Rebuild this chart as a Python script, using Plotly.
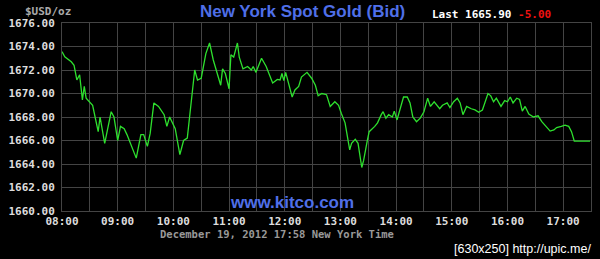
import plotly.graph_objects as go

times = ["08:00","08:03","08:10","08:13","08:16","08:19","08:22","08:24","08:26","08:30",
         "08:33","08:39","08:41","08:46","08:49","08:53","08:56","09:00","09:03","09:07",
         "09:10","09:15","09:20","09:25","09:28","09:32","09:35","09:39","09:44","09:50",
         "09:53","09:56","10:02","10:07","10:11","10:15","10:18","10:23","10:26","10:30",
         "10:35","10:39","10:43","10:46","10:51","10:53","10:56","11:00","11:02","11:05",
         "11:09","11:11","11:15","11:20","11:24","11:26","11:29","11:35","11:40","11:47",
         "11:52","11:55","11:57","11:59","12:01","12:04","12:08","12:11","12:15","12:18",
         "12:24","12:29","12:33","12:36","12:40","12:45","12:49","12:54","12:58","13:01",
         "13:05","13:10","13:12","13:16","13:19","13:23","13:25","13:29","13:31","13:37",
         "13:40","13:44","13:46","13:49","13:52","13:56","13:58","14:01","14:05","14:08",
         "14:12","14:15","14:18","14:22","14:26","14:30","14:34","14:37","14:41","14:47",
         "14:50","14:55","14:58","15:02","15:06","15:09","15:12","15:16","15:21","15:25",
         "15:29","15:33","15:39","15:42","15:45","15:48","15:53","15:57","16:00","16:03",
         "16:06","16:10","16:13","16:16","16:19","16:23","16:28","16:33","16:37","16:43",
         "16:46","16:50","16:53","16:58","17:02","17:06","17:09","17:12","17:29"]
prices = [1673.56,1673.13,1672.7,1672.4,1671.15,1671.6,1669.45,1670.6,1669.6,1669.2,
          1669.0,1666.75,1668.0,1665.76,1666.9,1668.45,1668.0,1666.0,1667.2,1667.0,
          1666.5,1665.5,1664.5,1666.5,1666.5,1665.5,1666.6,1669.2,1668.9,1668.2,
          1667.2,1668.0,1667.0,1664.8,1666.0,1666.2,1668.3,1672.0,1671.15,1671.3,
          1673.4,1674.3,1672.85,1672.0,1670.7,1672.1,1671.7,1670.4,1673.3,1673.1,
          1674.3,1673.1,1672.1,1672.3,1672.0,1672.3,1671.8,1673.0,1672.3,1670.9,
          1671.2,1671.15,1671.7,1671.1,1671.8,1670.9,1669.7,1670.3,1670.6,1671.4,
          1671.8,1671.3,1670.7,1669.8,1670.0,1669.9,1668.9,1669.3,1669.0,1668.3,
          1667.5,1665.2,1665.76,1666.1,1665.76,1663.7,1664.3,1666.0,1666.75,1667.2,
          1667.5,1668.2,1668.45,1667.9,1668.2,1668.0,1668.5,1667.75,1668.8,1669.7,
          1669.7,1669.2,1668.0,1667.6,1667.9,1668.45,1669.6,1668.9,1669.3,1668.7,
          1669.0,1669.2,1668.8,1669.3,1669.6,1669.2,1668.2,1668.9,1668.7,1668.6,
          1668.4,1668.6,1670.0,1669.8,1669.3,1669.6,1668.9,1669.4,1669.3,1669.7,
          1669.2,1669.6,1669.5,1668.5,1668.9,1668.25,1668.0,1668.1,1667.6,1667.0,
          1666.8,1666.9,1667.1,1667.2,1667.3,1667.2,1666.75,1665.95,1665.95]

date = "2012-12-19"
x_range = ["08:00", "17:30"]
y_ticks = [1660, 1662, 1664, 1666, 1668, 1670, 1672, 1674, 1676]
x_tick_labels = ["08:00","09:00","10:00","11:00","12:00","13:00","14:00","15:00","16:00","17:00"]

title = "New York Spot Gold (Bid)"
unit = "$USD/oz"
last_price = "1665.90"
change = "-5.00"
footer = "December 19, 2012 17:58 New York Time"
site = "www.kitco.com"
stamp = "[630x250] http://upic.me/"

xs = [f"{date} {t}" for t in times]
grid = "#444444"
mono = "DejaVu Sans Mono"

fig = go.Figure(go.Scatter(x=xs, y=prices, mode="lines",
                           line=dict(color="#2ee02e", width=1.3)))

L, R, T, B = 57, 8, 23, 48
W, H = 600, 259
pw, ph = W - L - R, H - T - B

def px(x):
    return (x - L) / pw

def py(y):
    return (H - B - y) / ph

fig.update_layout(
    width=W, height=H,
    margin=dict(l=L, r=R, t=T, b=B),
    paper_bgcolor="black", plot_bgcolor="black",
    showlegend=False,
    xaxis=dict(
        range=[f"{date} {x_range[0]}", f"{date} {x_range[1]}"],
        tickvals=[f"{date} {t}" for t in x_tick_labels],
        ticktext=x_tick_labels,
        showgrid=True, gridcolor=grid, gridwidth=1,
        minor=dict(dtick=1800000, showgrid=True, gridcolor=grid, gridwidth=1),
        showline=True, linecolor=grid, mirror=True, linewidth=1,
        zeroline=False, ticks="",
        tickfont=dict(family=mono, size=11, color="#dddddd", weight="bold"),
        ticklabelstandoff=0,
    ),
    yaxis=dict(
        range=[1660, 1676],
        tickvals=y_ticks,
        ticktext=[f"{v:.2f}" for v in y_ticks],
        showgrid=True, gridcolor=grid, gridwidth=1,
        showline=True, linecolor=grid, mirror=True, linewidth=1,
        zeroline=False, ticks="",
        tickfont=dict(family=mono, size=11, color="#dddddd", weight="bold"),
        ticklabelstandoff=4,
    ),
)

ann = [
    dict(text=title, x=px(300), y=py(12), xanchor="center", yanchor="middle",
         font=dict(family="Liberation Sans", size=17, color="#4f6fe8", weight="bold")),
    dict(text=unit, x=px(18), y=py(11), xanchor="left", yanchor="middle",
         font=dict(family=mono, size=11, color="#aaaaaa", weight="bold")),
    dict(text=f"Last {last_price} <span style='color:#ee1111'>{change}</span>",
         x=px(429), y=py(15), xanchor="left", yanchor="middle",
         font=dict(family=mono, size=11, color="#ffffff", weight="bold")),
    dict(text=site, x=px(290), y=py(202), xanchor="center", yanchor="middle",
         font=dict(family="Liberation Sans", size=17, color="#4f6fe8", weight="bold")),
    dict(text=footer, x=px(154), y=py(234), xanchor="left", yanchor="middle",
         font=dict(family=mono, size=10.5, color="#999999", weight="bold")),
    dict(text=stamp, x=px(594), y=py(249), xanchor="right", yanchor="middle",
         font=dict(family="Liberation Sans", size=12.5, color="#ffffff")),
]
for a in ann:
    a.update(xref="paper", yref="paper", showarrow=False)
fig.update_layout(annotations=ann)

fig.write_html("out.html")
